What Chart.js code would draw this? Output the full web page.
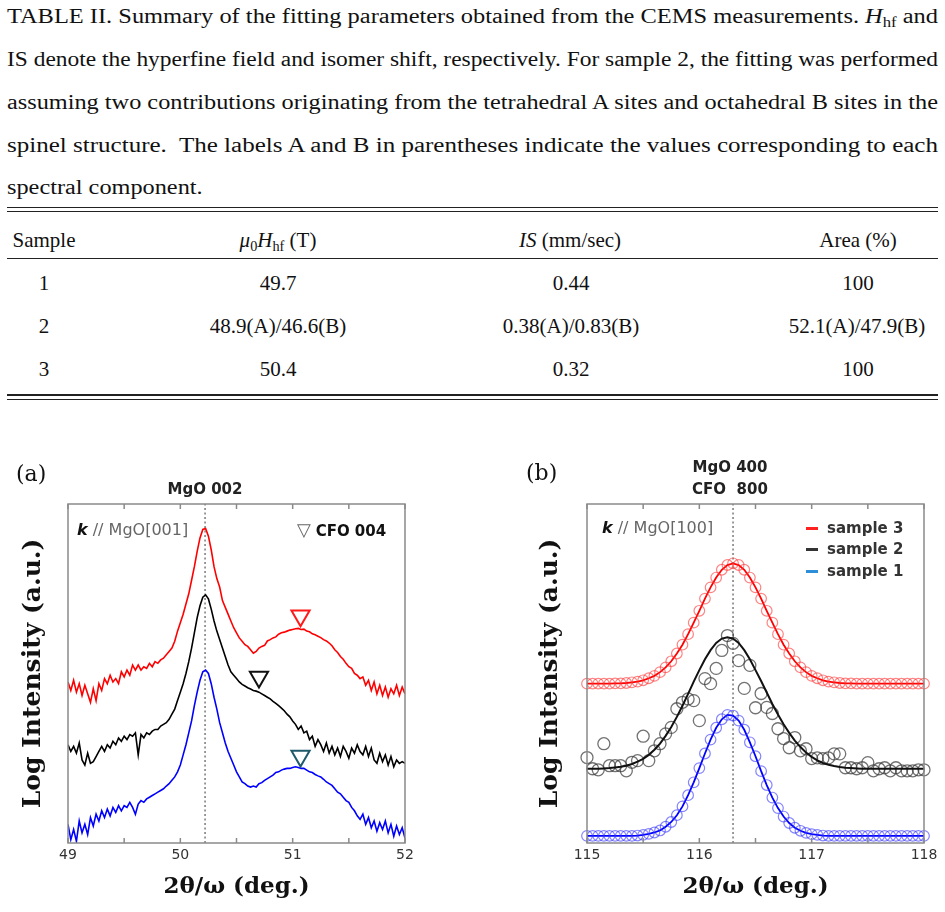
<!DOCTYPE html>
<html><head><meta charset="utf-8">
<script src="https://cdn.jsdelivr.net/npm/chart.js@4.4.1/dist/chart.umd.min.js"></script>
<style>
html,body{margin:0;padding:0;background:#fff;}
body{width:945px;height:912px;position:relative;overflow:hidden;font-family:"Liberation Serif",serif;color:#111;}
.pl{position:absolute;left:7px;width:940px;height:40px;line-height:40px;font-size:20.5px;white-space:nowrap;font-family:"Liberation Serif",serif;}
.pl>span{display:inline-block;transform-origin:0 50%;}
.rule{position:absolute;left:7px;width:931px;background:#222;}
.cell{position:absolute;width:260px;margin-left:-130px;text-align:center;font-size:21px;height:30px;line-height:30px;white-space:nowrap;}
sub{font-size:0.68em;vertical-align:-0.28em;line-height:0;}
.ann{position:absolute;white-space:nowrap;font-family:"DejaVu Sans",sans-serif;z-index:5;}
.lab{position:absolute;font-family:"DejaVu Serif",serif;font-size:22px;height:30px;line-height:30px;z-index:5;}
.wrap{position:absolute;top:440px;height:472px;}
.leg{position:absolute;height:3px;width:12px;z-index:5;}
</style></head>
<body>
<div class="pl" style="top:-4px"><span>TABLE II. Summary of the fitting parameters obtained from the CEMS measurements. <i>H</i><sub>hf</sub> and</span></div>
<div class="pl" style="top:39px"><span>IS denote the hyperfine field and isomer shift, respectively. For sample 2, the fitting was performed</span></div>
<div class="pl" style="top:82px"><span>assuming two contributions originating from the tetrahedral A sites and octahedral B sites in the</span></div>
<div class="pl" style="top:125px"><span>spinel structure.&nbsp; The labels A and B in parentheses indicate the values corresponding to each</span></div>
<div class="pl" style="top:167px"><span>spectral component.</span></div>

<div class="rule" style="top:207px;height:1.2px"></div>
<div class="rule" style="top:211px;height:1.2px"></div>
<div class="rule" style="top:258px;height:1.2px"></div>
<div class="rule" style="top:394px;height:1.6px"></div>
<div class="rule" style="top:398.5px;height:1.6px"></div>

<div class="cell" style="left:44px;top:225px">Sample</div>
<div class="cell" style="left:278px;top:225px"><i>μ</i><sub>0</sub><i>H</i><sub>hf</sub> (T)</div>
<div class="cell" style="left:570px;top:225px"><i>IS</i> (mm/sec)</div>
<div class="cell" style="left:858px;top:225px">Area (%)</div>

<div class="cell" style="left:44px;top:268px">1</div>
<div class="cell" style="left:278px;top:268px">49.7</div>
<div class="cell" style="left:571px;top:268px">0.44</div>
<div class="cell" style="left:858px;top:268px">100</div>

<div class="cell" style="left:44px;top:311px">2</div>
<div class="cell" style="left:278px;top:311px">48.9(A)/46.6(B)</div>
<div class="cell" style="left:571px;top:311px">0.38(A)/0.83(B)</div>
<div class="cell" style="left:857px;top:311px">52.1(A)/47.9(B)</div>

<div class="cell" style="left:44px;top:354px">3</div>
<div class="cell" style="left:278px;top:354px">50.4</div>
<div class="cell" style="left:571px;top:354px">0.32</div>
<div class="cell" style="left:858px;top:354px">100</div>

<div class="wrap" style="left:0;width:470px"><canvas id="ca" width="470" height="472"></canvas></div>
<div class="wrap" style="left:520px;width:425px"><canvas id="cb" width="425" height="472"></canvas></div>

<div class="lab" style="left:16px;top:459px">(a)</div>
<div class="lab" style="left:526px;top:458px">(b)</div>

<div class="ann" style="left:105px;width:200px;text-align:center;top:479px;height:20px;line-height:20px;font-size:15px;font-weight:bold;color:#222">MgO 002</div>
<div class="ann" style="left:77px;top:519px;height:22px;line-height:22px;font-size:16px;color:#666"><b><i style="color:#111">k</i></b> // MgO[001]</div>
<div class="ann" style="left:297px;top:519px;height:22px;line-height:22px;font-size:15px;color:#111"><span style="color:#666;font-size:18px">▽</span> <b>CFO 004</b></div>

<div class="ann" style="left:630px;width:200px;text-align:center;top:457px;height:20px;line-height:20px;font-size:15px;font-weight:bold;color:#222">MgO 400</div>
<div class="ann" style="left:630px;width:200px;text-align:center;top:479px;height:20px;line-height:20px;font-size:15px;font-weight:bold;color:#222;white-space:pre">CFO  800</div>
<div class="ann" style="left:602px;top:517px;height:22px;line-height:22px;font-size:16px;color:#666"><b><i style="color:#111">k</i></b> // MgO[100]</div>

<div class="leg" style="left:806px;top:527px;background:#ff2020"></div>
<div class="leg" style="left:806px;top:548px;background:#333"></div>
<div class="leg" style="left:806px;top:570px;background:#2e8ed8"></div>
<div class="ann" style="left:827px;top:518px;height:20px;line-height:20px;font-size:15px;font-weight:bold;color:#333">sample 3</div>
<div class="ann" style="left:827px;top:539px;height:20px;line-height:20px;font-size:15px;font-weight:bold;color:#333">sample 2</div>
<div class="ann" style="left:827px;top:561px;height:20px;line-height:20px;font-size:15px;font-weight:bold;color:#333">sample 1</div>

<script>
// ---------- Panel (a): 2θ/ω scans around MgO 002 ----------
const twoThetaA = [
49,49.025,49.05,49.075,49.1,49.125,49.15,49.175,49.2,49.225,
49.25,49.275,49.3,49.325,49.35,49.375,49.4,49.425,49.45,49.475,
49.5,49.525,49.55,49.575,49.6,49.625,49.65,49.675,49.7,49.725,
49.75,49.775,49.8,49.825,49.85,49.875,49.9,49.925,49.95,49.975,
50,50.025,50.05,50.075,50.1,50.125,50.15,50.175,50.2,50.225,
50.25,50.275,50.3,50.325,50.35,50.375,50.4,50.425,50.45,50.475,
50.5,50.525,50.55,50.575,50.6,50.625,50.65,50.675,50.7,50.725,
50.75,50.775,50.8,50.825,50.85,50.875,50.9,50.925,50.95,50.975,
51,51.025,51.05,51.075,51.1,51.125,51.15,51.175,51.2,51.225,
51.25,51.275,51.3,51.325,51.35,51.375,51.4,51.425,51.45,51.475,
51.5,51.525,51.55,51.575,51.6,51.625,51.65,51.675,51.7,51.725,
51.75,51.775,51.8,51.825,51.85,51.875,51.9,51.925,51.95,51.975,
52];
const sample3A = [
47.5,45.0,48.0,44.5,47.0,43.5,46.5,44.0,41.5,45.5,
42.0,47.0,45.0,48.5,47.0,49.5,47.5,48.5,47.0,50.5,
49.0,51.0,49.5,52.5,51.0,52.5,51.0,52.0,51.5,53.0,
52.0,53.5,53.0,54.0,54.5,55.5,56.5,57.5,59.5,62.5,
65.0,67.5,70.5,73.5,77.5,81.5,86.0,90.0,92.5,92.8,
90.5,86.5,81.5,78.0,75.5,71.5,69.5,67.5,65.5,63.5,
62.0,60.5,59.5,58.5,58.0,57.0,56.0,56.5,57.5,58.0,
58.3,59.6,60.0,60.5,60.8,61.6,62.0,62.2,62.5,62.8,
63.0,63.2,63.3,63.0,63.1,62.5,62.3,61.7,61.4,61.0,
60.6,60.0,59.6,59.0,58.2,57.0,56.2,55.0,54.2,53.0,
52.0,51.5,50.0,49.5,48.5,49.0,46.5,48.0,45.0,47.5,
44.0,46.5,43.5,46.0,43.0,45.5,44.0,46.5,43.5,46.0,
44.0];
const sample2A = [
29.0,27.0,28.5,26.5,29.5,24.5,23.0,26.5,23.5,24.0,
25.5,27.0,28.5,27.0,29.0,28.0,30.0,29.0,31.0,30.0,
31.5,30.5,32.0,31.5,32.5,26.0,32.0,31.0,32.5,32.0,
33.0,33.5,33.5,34.5,35.0,35.5,36.5,38.0,39.5,42.0,
44.5,47.0,50.0,53.5,57.5,62.0,66.5,70.0,72.5,73.2,
72.0,69.0,65.5,62.5,60.0,57.5,55.0,52.5,50.5,49.5,
48.5,47.5,46.8,46.3,45.8,45.4,45.0,44.8,44.5,44.0,
43.5,43.0,42.5,41.8,41.2,40.5,39.8,39.0,38.0,37.2,
36.0,35.0,33.5,34.5,32.5,33.0,30.5,31.5,28.5,30.5,
29.0,27.0,29.5,26.5,28.5,26.0,28.0,25.5,28.5,27.0,
25.0,28.0,26.5,29.0,27.0,26.0,28.5,25.5,28.0,24.5,
23.5,26.5,24.0,26.0,23.0,25.5,22.5,24.5,23.5,24.0,
23.5];
const sample1A = [
5.5,1.0,4.0,0.5,6.5,3.0,5.5,2.5,7.5,5.0,
8.5,6.5,9.5,7.5,10.0,8.0,10.5,9.0,11.0,9.5,
11.0,10.5,12.0,10.5,8.5,11.5,12.5,12.0,13.0,13.5,
14.0,14.5,15.0,15.5,16.0,16.8,17.5,18.5,19.5,21.0,
23.0,26.0,29.0,32.5,36.0,40.5,44.5,48.0,50.5,51.0,
50.0,47.0,43.0,39.5,35.5,32.5,29.5,27.0,25.0,23.0,
21.0,19.5,18.0,17.5,16.8,16.5,16.8,16.5,17.5,17.8,
18.5,19.0,19.5,20.0,20.8,21.0,21.5,21.8,22.0,22.0,
22.3,22.5,22.3,22.0,22.0,21.5,21.0,20.8,20.2,19.8,
19.5,18.8,18.0,17.5,17.0,16.0,15.0,14.5,13.5,12.5,
12.0,10.5,9.5,8.0,7.0,8.5,5.5,7.5,4.5,6.5,
3.5,6.0,4.0,6.5,3.0,5.5,2.0,5.0,2.5,4.5,
1.5];
const cfoMarkX = [51.07, 50.70, 51.07];
const cfoMarkY = [67.0, 49.0, 25.7];
const cfoMarkColor = ['#ff1a1a', '#111111', '#1f5a6b'];
const mgoLineA = 50.22;
const tickLabelsA = ['49','50','51','52'];

// ---------- Panel (b): 2θ/ω scans around MgO 400 / CFO 800 ----------
const twoThetaB = [
115,115.05,115.1,115.15,115.2,115.25,115.3,115.35,115.4,115.45,
115.5,115.55,115.6,115.65,115.7,115.75,115.8,115.85,115.9,115.95,
116,116.05,116.1,116.15,116.2,116.25,116.3,116.35,116.4,116.45,
116.5,116.55,116.6,116.65,116.7,116.75,116.8,116.85,116.9,116.95,
117,117.05,117.1,117.15,117.2,117.25,117.3,117.35,117.4,117.45,
117.5,117.55,117.6,117.65,117.7,117.75,117.8,117.85,117.9,117.95,
118];
const sample3B = [
47.0,47.0,47.0,47.0,47.0,47.1,47.1,47.2,47.4,47.6,
48.0,48.6,49.3,50.4,51.8,53.6,55.9,58.5,61.6,65.0,
68.5,72.1,75.4,78.3,80.6,82.0,82.5,82.0,80.6,78.3,
75.4,72.1,68.5,65.0,61.6,58.5,55.9,53.6,51.8,50.4,
49.3,48.6,48.0,47.6,47.4,47.2,47.1,47.1,47.0,47.0,
47.0,47.0,47.0,47.0,47.0,47.0,47.0,47.0,47.0,47.0,
47.0];
const sample2B = [
25.2,21.9,21.6,29.3,22.8,22.8,22.8,21.3,23.8,24.3,
31.5,24.3,27.2,29.3,32.2,34.1,39.6,41.5,42.5,42.0,
36.1,48.5,47.0,51.5,56.8,61.2,58.9,53.8,45.6,52.4,
39.9,44.1,40.0,38.2,33.7,30.8,28.1,31.1,27.2,27.8,
24.9,25.1,24.9,25.1,26.3,26.3,22.2,22.2,21.9,22.2,
23.7,21.3,21.9,22.2,21.3,22.2,21.3,21.3,21.3,21.6,
21.6];
const sample2FitB = [
21.9,21.9,21.9,22.0,22.1,22.3,22.5,22.8,23.3,24.0,
24.8,26.0,27.5,29.3,31.6,34.2,37.2,40.5,44.0,47.6,
51.0,54.2,56.9,59.0,60.3,60.7,60.3,59.0,56.9,54.2,
51.0,47.8,44.4,41.0,37.9,35.0,32.5,30.2,28.3,26.7,
25.4,24.4,23.6,23.1,22.7,22.4,22.2,22.1,22.0,21.9,
21.9,21.9,21.9,21.9,21.9,21.9,21.9,21.9,21.9,21.9,
21.9];
const sample1B = [
2.1,2.1,2.1,2.1,2.1,2.1,2.1,2.1,2.1,2.2,
2.4,2.7,3.1,3.7,4.8,6.2,8.2,10.8,14.1,17.9,
22.1,26.4,30.5,34.0,36.5,37.8,37.6,36.1,33.4,29.7,
25.6,21.2,17.1,13.4,10.3,7.8,5.9,4.5,3.6,3.0,
2.6,2.4,2.2,2.1,2.1,2.1,2.1,2.1,2.1,2.1,
2.1,2.1,2.1,2.1,2.1,2.1,2.1,2.1,2.1,2.1,
2.1];
const mgoLineB = 116.3;
const tickLabelsB = ['115','116','117','118'];

// ---------- fit paragraph lines to the text width ----------
(function(){
  const spans=[...document.querySelectorAll('.pl>span')];
  const ks=[];
  spans.forEach((s,i)=>{ if(i<4){const w=s.getBoundingClientRect().width; const k=931/w; ks.push(k); s.style.transform='scaleX('+k+')';}});
  const mk=ks.reduce((a,b)=>a+b,0)/ks.length;
  spans[4].style.transform='scaleX('+mk+')';
})();

const pts = (xs, ys) => xs.map((x,i)=>({x:x, y:ys[i]}));

const framePlugin = {
  id:'frame',
  afterDatasetsDraw(chart){
    const {ctx, chartArea:a, scales:{x}} = chart;
    ctx.save();
    ctx.strokeStyle='#8a8a8a'; ctx.lineWidth=1.5;
    x.ticks.forEach(t=>{
      const px=x.getPixelForValue(t.value);
      ctx.beginPath();
      ctx.moveTo(px,a.bottom); ctx.lineTo(px,a.bottom-5);
      ctx.moveTo(px,a.top); ctx.lineTo(px,a.top+5);
      ctx.stroke();
    });
    ctx.strokeRect(a.left,a.top,a.right-a.left,a.bottom-a.top);
    ctx.restore();
  }
};

function options(xmin, xmax, labels, yW, yPad, rightPad){
  return {
    responsive:false, animation:false, events:[],
    layout:{padding:{left:0,right:rightPad,top:64,bottom:0}},
    plugins:{legend:{display:false}, tooltip:{enabled:false}},
    scales:{
      x:{type:'linear', min:xmin, max:xmax,
         grid:{display:false, drawTicks:false}, border:{display:false},
         ticks:{stepSize:0.5, autoSkip:false, maxRotation:0, padding:4,
                font:{family:'DejaVu Sans', size:14}, color:'#333',
                callback:(v)=>labels.includes(String(v))?String(v):''},
         title:{display:true, text:'2θ/ω (deg.)', color:'#111',
                font:{family:'DejaVu Serif', size:23, weight:'bold'}, padding:{top:0,bottom:11}},
         afterFit:(s)=>{s.height=69;}},
      y:{type:'linear', min:0, max:100,
         grid:{display:false, drawTicks:false}, border:{display:false},
         ticks:{display:false},
         title:{display:true, text:'Log Intensity (a.u.)', color:'#111',
                font:{family:'DejaVu Serif', size:25, weight:'bold'}, padding:{top:yPad,bottom:0}},
         afterFit:(s)=>{s.width=yW;}}
    }
  };
}

new Chart(document.getElementById('ca'), {
  type:'line',
  data:{datasets:[
    {label:'CFO 004', data:pts(cfoMarkX,cfoMarkY), showLine:false, pointStyle:'triangle', rotation:180,
     pointRadius:10.5, pointBorderWidth:2, pointBorderColor:cfoMarkColor, pointBackgroundColor:'rgba(0,0,0,0)'},
    {label:'sample 3', data:pts(twoThetaA,sample3A), borderColor:'#ff0000', borderWidth:1.6, pointRadius:0, tension:0},
    {label:'sample 2', data:pts(twoThetaA,sample2A), borderColor:'#000000', borderWidth:1.6, pointRadius:0, tension:0},
    {label:'sample 1', data:pts(twoThetaA,sample1A), borderColor:'#0000ff', borderWidth:1.6, pointRadius:0, tension:0},
    {label:'MgO 002', data:[{x:mgoLineA,y:0},{x:mgoLineA,y:100}], borderColor:'#666', borderWidth:1.3, borderDash:[2,2.5], pointRadius:0}
  ]},
  options:options(49,52,tickLabelsA,68,18,65),
  plugins:[framePlugin]
});

new Chart(document.getElementById('cb'), {
  type:'line',
  data:{datasets:[
    {label:'sample 3', data:pts(twoThetaB,sample3B), borderColor:'#ff0000', borderWidth:1.8, tension:0, clip:false,
     pointRadius:5.3, pointBorderWidth:1.2, pointBorderColor:'rgba(255,50,50,0.6)', pointBackgroundColor:'rgba(0,0,0,0)'},
    {label:'sample 2 fit', data:pts(twoThetaB,sample2FitB), borderColor:'#111', borderWidth:2, pointRadius:0, tension:0},
    {label:'sample 2', data:pts(twoThetaB,sample2B), showLine:false, clip:false,
     pointRadius:6, pointBorderWidth:1.3, pointBorderColor:'rgba(60,60,60,0.72)', pointBackgroundColor:'rgba(0,0,0,0)'},
    {label:'sample 1', data:pts(twoThetaB,sample1B), borderColor:'#0000ff', borderWidth:1.8, tension:0, clip:false,
     pointRadius:5.3, pointBorderWidth:1.2, pointBorderColor:'rgba(50,50,255,0.6)', pointBackgroundColor:'rgba(0,0,0,0)'},
    {label:'MgO 400', data:[{x:mgoLineB,y:0},{x:mgoLineB,y:100}], borderColor:'#666', borderWidth:1.3, borderDash:[2,2.5], pointRadius:0}
  ]},
  options:options(115,118,tickLabelsB,67,15,21),
  plugins:[framePlugin]
});
</script>
</body></html>
